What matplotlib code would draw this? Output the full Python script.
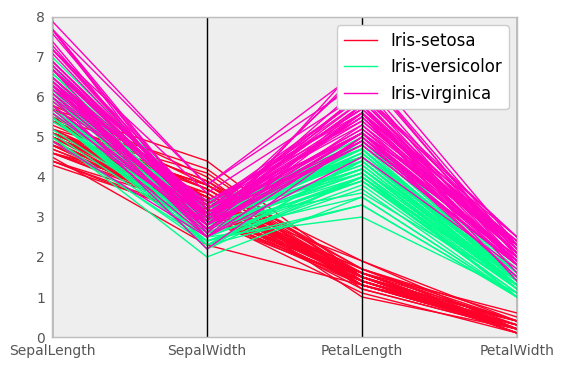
import pandas as pd
import matplotlib
matplotlib.use("Agg")
import matplotlib.pyplot as plt
from pandas.plotting import parallel_coordinates

features = ["SepalLength", "SepalWidth", "PetalLength", "PetalWidth"]
species = ["Iris-setosa", "Iris-versicolor", "Iris-virginica"]

setosa = [
    [5.1,3.5,1.4,0.2],[4.9,3.0,1.4,0.2],[4.7,3.2,1.3,0.2],[4.6,3.1,1.5,0.2],[5.0,3.6,1.4,0.2],
    [5.4,3.9,1.7,0.4],[4.6,3.4,1.4,0.3],[5.0,3.4,1.5,0.2],[4.4,2.9,1.4,0.2],[4.9,3.1,1.5,0.1],
    [5.4,3.7,1.5,0.2],[4.8,3.4,1.6,0.2],[4.8,3.0,1.4,0.1],[4.3,3.0,1.1,0.1],[5.8,4.0,1.2,0.2],
    [5.7,4.4,1.5,0.4],[5.4,3.9,1.3,0.4],[5.1,3.5,1.4,0.3],[5.7,3.8,1.7,0.3],[5.1,3.8,1.5,0.3],
    [5.4,3.4,1.7,0.2],[5.1,3.7,1.5,0.4],[4.6,3.6,1.0,0.2],[5.1,3.3,1.7,0.5],[4.8,3.4,1.9,0.2],
    [5.0,3.0,1.6,0.2],[5.0,3.4,1.6,0.4],[5.2,3.5,1.5,0.2],[5.2,3.4,1.4,0.2],[4.7,3.2,1.6,0.2],
    [4.8,3.1,1.6,0.2],[5.4,3.4,1.5,0.4],[5.2,4.1,1.5,0.1],[5.5,4.2,1.4,0.2],[4.9,3.1,1.5,0.1],
    [5.0,3.2,1.2,0.2],[5.5,3.5,1.3,0.2],[4.9,3.1,1.5,0.1],[4.4,3.0,1.3,0.2],[5.1,3.4,1.5,0.2],
    [5.0,3.5,1.3,0.3],[4.5,2.3,1.3,0.3],[4.4,3.2,1.3,0.2],[5.0,3.5,1.6,0.6],[5.1,3.8,1.9,0.4],
    [4.8,3.0,1.4,0.3],[5.1,3.8,1.6,0.2],[4.6,3.2,1.4,0.2],[5.3,3.7,1.5,0.2],[5.0,3.3,1.4,0.2],
]
versicolor = [
    [7.0,3.2,4.7,1.4],[6.4,3.2,4.5,1.5],[6.9,3.1,4.9,1.5],[5.5,2.3,4.0,1.3],[6.5,2.8,4.6,1.5],
    [5.7,2.8,4.5,1.3],[6.3,3.3,4.7,1.6],[4.9,2.4,3.3,1.0],[6.6,2.9,4.6,1.3],[5.2,2.7,3.9,1.4],
    [5.0,2.0,3.5,1.0],[5.9,3.0,4.2,1.5],[6.0,2.2,4.0,1.0],[6.1,2.9,4.7,1.4],[5.6,2.9,3.6,1.3],
    [6.7,3.1,4.4,1.4],[5.6,3.0,4.5,1.5],[5.8,2.7,4.1,1.0],[6.2,2.2,4.5,1.5],[5.6,2.5,3.9,1.1],
    [5.9,3.2,4.8,1.8],[6.1,2.8,4.0,1.3],[6.3,2.5,4.9,1.5],[6.1,2.8,4.7,1.2],[6.4,2.9,4.3,1.3],
    [6.6,3.0,4.4,1.4],[6.8,2.8,4.8,1.4],[6.7,3.0,5.0,1.7],[6.0,2.9,4.5,1.5],[5.7,2.6,3.5,1.0],
    [5.5,2.4,3.8,1.1],[5.5,2.4,3.7,1.0],[5.8,2.7,3.9,1.2],[6.0,2.7,5.1,1.6],[5.4,3.0,4.5,1.5],
    [6.0,3.4,4.5,1.6],[6.7,3.1,4.7,1.5],[6.3,2.3,4.4,1.3],[5.6,3.0,4.1,1.3],[5.5,2.5,4.0,1.3],
    [5.5,2.6,4.4,1.2],[6.1,3.0,4.6,1.4],[5.8,2.6,4.0,1.2],[5.0,2.3,3.3,1.0],[5.6,2.7,4.2,1.3],
    [5.7,3.0,4.2,1.2],[5.7,2.9,4.2,1.3],[6.2,2.9,4.3,1.3],[5.1,2.5,3.0,1.1],[5.7,2.8,4.1,1.3],
]
virginica = [
    [6.3,3.3,6.0,2.5],[5.8,2.7,5.1,1.9],[7.1,3.0,5.9,2.1],[6.3,2.9,5.6,1.8],[6.5,3.0,5.8,2.2],
    [7.6,3.0,6.6,2.1],[4.9,2.5,4.5,1.7],[7.3,2.9,6.3,1.8],[6.7,2.5,5.8,1.8],[7.2,3.6,6.1,2.5],
    [6.5,3.2,5.1,2.0],[6.4,2.7,5.3,1.9],[6.8,3.0,5.5,2.1],[5.7,2.5,5.0,2.0],[5.8,2.8,5.1,2.4],
    [6.4,3.2,5.3,2.3],[6.5,3.0,5.5,1.8],[7.7,3.8,6.7,2.2],[7.7,2.6,6.9,2.3],[6.0,2.2,5.0,1.5],
    [6.9,3.2,5.7,2.3],[5.6,2.8,4.9,2.0],[7.7,2.8,6.7,2.0],[6.3,2.7,4.9,1.8],[6.7,3.3,5.7,2.1],
    [7.2,3.2,6.0,1.8],[6.2,2.8,4.8,1.8],[6.1,3.0,4.9,1.8],[6.4,2.8,5.6,2.1],[7.2,3.0,5.8,1.6],
    [7.4,2.8,6.1,1.9],[7.9,3.8,6.4,2.0],[6.4,2.8,5.6,2.2],[6.3,2.8,5.1,1.5],[6.1,2.6,5.6,1.4],
    [7.7,3.0,6.1,2.3],[6.3,3.4,5.6,2.4],[6.4,3.1,5.5,1.8],[6.0,3.0,4.8,1.8],[6.9,3.1,5.4,2.1],
    [6.7,3.1,5.6,2.4],[6.9,3.1,5.1,2.3],[5.8,2.7,5.1,1.9],[6.8,3.2,5.9,2.3],[6.7,3.3,5.7,2.5],
    [6.7,3.0,5.2,2.3],[6.3,2.5,5.0,1.9],[6.5,3.0,5.2,2.0],[6.2,3.4,5.4,2.3],[5.9,3.0,5.1,1.8],
]

frames = []
for name, rows in zip(species, [setosa, versicolor, virginica]):
    d = pd.DataFrame(rows, columns=features)
    d["Name"] = name
    frames.append(d)
df = pd.concat(frames, ignore_index=True)

fig = plt.figure(figsize=(5.63, 3.69), dpi=100)
ax = fig.add_axes([0.0924, 0.0867, 0.8259, 0.8673])
ax.set_facecolor("#eeeeee")
parallel_coordinates(df, "Name", colormap="gist_rainbow", ax=ax, linewidth=1,
                     axvlines_kwds={"linewidth": 1, "color": "black"})
ax.grid(False)
ax.set_ylim(0, 8)
ax.set_xlim(0, 3)
for s in ax.spines.values():
    s.set_color("#bcbcbc")
    s.set_linewidth(1)
ax.tick_params(length=0, colors="#555555", labelsize=10, pad=5)
leg = ax.legend(loc="upper right", fontsize=12, frameon=True, fancybox=True, framealpha=1)
leg.get_frame().set_facecolor("white")
leg.get_frame().set_edgecolor("#cccccc")
fig.savefig("out.png", dpi=100)
